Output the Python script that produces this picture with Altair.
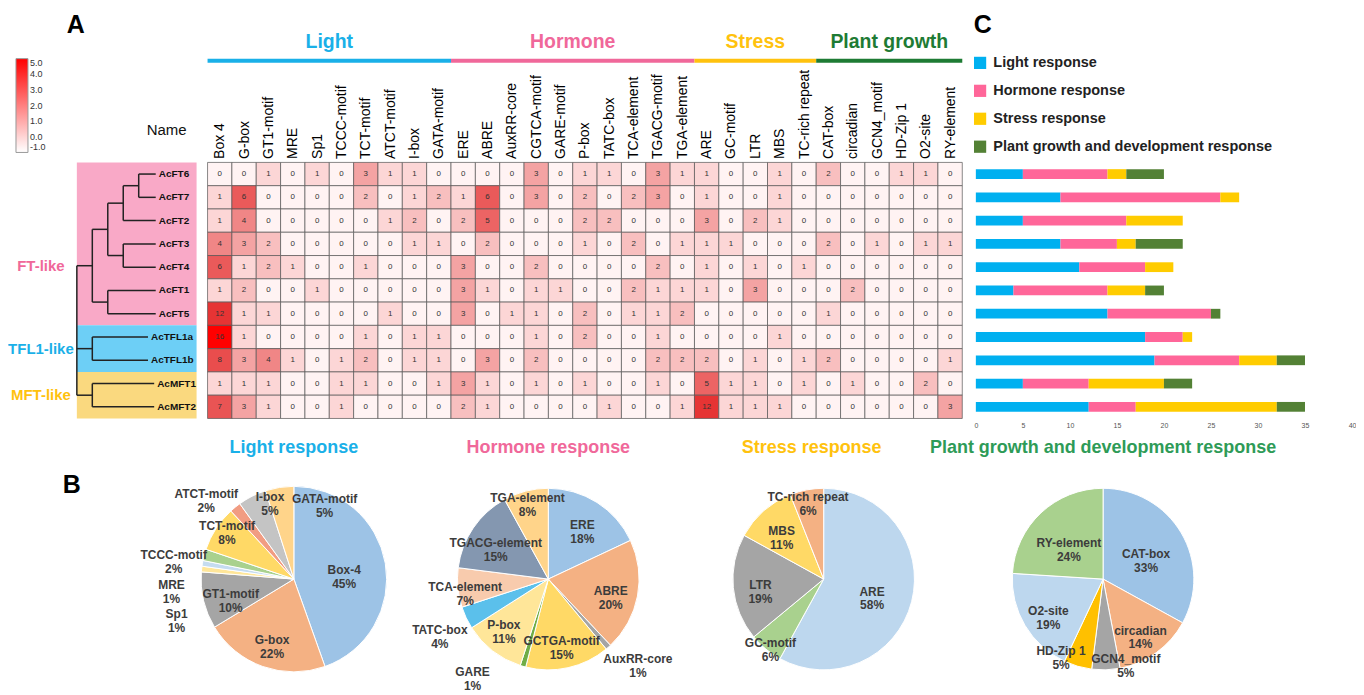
import math
import altair as alt
import pandas as pd

FONT = "Liberation Sans, Arial, sans-serif"

# ------------------------------------------------------------------ data
genes = ["AcFT6", "AcFT7", "AcFT2", "AcFT3", "AcFT4", "AcFT1", "AcFT5",
         "AcTFL1a", "AcTFL1b", "AcMFT1", "AcMFT2"]
clades = ["FT-like", "TFL1-like", "MFT-like"]
clade_of_gene = ["FT-like"] * 7 + ["TFL1-like"] * 2 + ["MFT-like"] * 2

light_cols = ["Box 4", "G-box", "GT1-motif", "MRE", "Sp1", "TCCC-motif",
              "TCT-motif", "ATCT-motif", "I-box", "GATA-motif"]
hormone_cols = ["ERE", "ABRE", "AuxRR-core", "CGTCA-motif", "GARE-motif", "P-box",
                "TATC-box", "TCA-element", "TGACG-motif", "TGA-element"]
stress_cols = ["ARE", "GC-motif", "LTR", "MBS", "TC-rich repeat"]
growth_cols = ["CAT-box", "circadian", "GCN4_motif", "HD-Zip 1", "O2-site", "RY-element"]
group_names = ["Light", "Hormone", "Stress", "Plant growth"]
group_cols = [light_cols, hormone_cols, stress_cols, growth_cols]

# element counts per gene: light | hormone | stress | growth
AcFT6 = [0, 0, 1, 0, 1, 0, 3, 1, 1, 0, 0, 0, 0, 3, 0, 1, 1, 0, 3, 1, 1, 0, 0, 1, 0, 2, 0, 0, 1, 1, 0]
AcFT7 = [1, 6, 0, 0, 0, 0, 2, 0, 1, 2, 1, 6, 0, 3, 0, 2, 0, 2, 3, 0, 1, 0, 0, 1, 0, 0, 0, 0, 0, 0, 0]
AcFT2 = [1, 4, 0, 0, 0, 0, 0, 1, 2, 0, 2, 5, 0, 0, 0, 2, 2, 0, 0, 0, 3, 0, 2, 1, 0, 0, 0, 0, 0, 0, 0]
AcFT3 = [4, 3, 2, 0, 0, 0, 0, 0, 1, 1, 0, 2, 0, 0, 0, 1, 0, 2, 0, 1, 1, 1, 0, 0, 0, 2, 0, 1, 0, 1, 1]
AcFT4 = [6, 1, 2, 1, 0, 0, 1, 0, 0, 0, 3, 0, 0, 2, 0, 0, 0, 0, 2, 0, 1, 0, 1, 0, 1, 0, 0, 0, 0, 0, 0]
AcFT1 = [1, 2, 0, 0, 1, 0, 0, 0, 0, 0, 3, 1, 0, 1, 1, 0, 0, 2, 1, 1, 1, 0, 3, 0, 0, 0, 2, 0, 0, 0, 0]
AcFT5 = [12, 1, 1, 0, 0, 0, 0, 1, 0, 0, 3, 0, 1, 1, 0, 2, 0, 1, 1, 2, 0, 0, 0, 0, 0, 1, 0, 0, 0, 0, 0]
AcTFL1a = [16, 1, 0, 0, 0, 0, 1, 0, 1, 1, 0, 0, 0, 1, 0, 2, 0, 0, 1, 0, 0, 0, 0, 1, 0, 0, 0, 0, 0, 0, 0]
AcTFL1b = [8, 3, 4, 1, 0, 1, 2, 0, 1, 1, 0, 3, 0, 2, 0, 0, 0, 0, 2, 2, 2, 0, 1, 0, 1, 2, 0, 0, 0, 0, 1]
AcMFT1 = [1, 1, 1, 0, 0, 1, 1, 0, 0, 1, 3, 1, 0, 1, 0, 1, 0, 0, 1, 0, 5, 1, 1, 0, 1, 0, 1, 0, 0, 2, 0]
AcMFT2 = [7, 3, 1, 0, 0, 1, 0, 0, 0, 0, 2, 1, 0, 0, 0, 0, 1, 0, 0, 1, 12, 1, 1, 1, 0, 0, 0, 0, 0, 0, 3]
gene_rows = [AcFT6, AcFT7, AcFT2, AcFT3, AcFT4, AcFT1, AcFT5, AcTFL1a, AcTFL1b, AcMFT1, AcMFT2]

# phylogenetic tree (name, depth, children)
tree = ("root", 0.0, [
    ("FT", 1.0, [
        ("n1", 2.0, [
            ("n2", 3.0, [("n3", 4.0, ["AcFT6", "AcFT7"]), "AcFT2"]),
            ("n4", 3.0, ["AcFT3", "AcFT4"])]),
        ("n5", 2.0, ["AcFT1", "AcFT5"])]),
    ("TFL1", 1.0, ["AcTFL1a", "AcTFL1b"]),
    ("MFT", 1.0, ["AcMFT1", "AcMFT2"])])
clade_nodes = ["FT", "TFL1", "MFT"]
leaf_depth = [5.1, 5.1, 5.1, 5.1, 5.1, 5.1, 5.1, 4.6, 4.6, 5.0, 5.0]

# panel C
response_names = ["Light response", "Hormone response", "Stress response",
                  "Plant growth and development response"]
light_resp = [5, 9, 5, 9, 11, 4, 14, 18, 19, 5, 12]
hormone_resp = [9, 17, 11, 6, 7, 10, 11, 4, 9, 7, 5]
stress_resp = [2, 2, 6, 2, 3, 4, 0, 1, 4, 8, 15]
growth_resp = [4, 0, 0, 5, 0, 2, 1, 0, 3, 3, 3]

# panel B
pie_titles = ["Light response", "Hormone response", "Stress response",
              "Plant growth and development response"]
light_motifs = ["Box-4", "G-box", "GT1-motif", "Sp1", "MRE", "TCCC-motif",
                "TCT-motif", "ATCT-motif", "I-box", "GATA-motif"]
light_pct = [45, 22, 10, 1, 1, 2, 8, 2, 5, 5]
hormone_motifs = ["ERE", "ABRE", "AuxRR-core", "GCTGA-motif", "GARE", "P-box",
                  "TATC-box", "TCA-element", "TGACG-element", "TGA-element"]
hormone_pct = [18, 20, 1, 15, 1, 11, 4, 7, 15, 8]
stress_motifs = ["ARE", "GC-motif", "LTR", "MBS", "TC-rich repeat"]
stress_pct = [58, 6, 19, 11, 6]
growth_motifs = ["CAT-box", "circadian", "GCN4_motif", "HD-Zip 1", "O2-site", "RY-element"]
growth_pct = [33, 14, 5, 5, 19, 24]

# ------------------------------------------------------------------ styles
HEAT_DOMAIN = [0, 1, 2, 3, 4, 5, 6, 12, 16]
HEAT_RANGE = ["#FFF3F3", "#FCD6D6", "#F8BFBF", "#F4A3A3", "#F08686",
              "#EC6464", "#EA5A5A", "#E63434", "#FF0000"]
GROUP_COLORS = ["#1AB0E8", "#F0689A", "#FFC20E", "#1E7B34"]
CLADE_BG = ["#F9A9C7", "#6DCFF6", "#FAD97F"]
CLADE_TXT = ["#F0689A", "#1AB0E8", "#FFC20E"]
RESP_COLORS = ["#00B0F0", "#FF6699", "#FFCC00", "#538135"]
PIE_TITLE_COLORS = ["#1AB0E8", "#F0689A", "#FFC20E", "#2E9B57"]
LIGHT_COLORS = ["#9DC3E6", "#F4B183", "#A5A5A5", "#FFE699", "#C5DCF0",
                "#A9D18E", "#FFD966", "#F19C82", "#C4C4C4", "#FFD48A"]
HORMONE_COLORS = ["#9DC3E6", "#F4B183", "#A5A5A5", "#FFD966", "#70AD47",
                  "#FFE699", "#5BC0EB", "#F8CBAD", "#8497B0", "#FFD48A"]
STRESS_COLORS = ["#BDD7EE", "#A9D18E", "#A5A5A5", "#FFD966", "#F4B183"]
GROWTH_COLORS = ["#9DC3E6", "#F4B183", "#A5A5A5", "#FFC000", "#BDD7EE", "#A9D18E"]

# layout (pixels)
NC, NR = 31, 11
CW, RH = 24.4, 23.33
HEAT_H = RH * NR
HEAT_W = 770
DEND_W = 131
DEND_UNIT = 15.5
BG_W = 120
BAR_W = 377
PIE_H = 200

# ------------------------------------------------------------------ panel A: tree
segs, node_y = [], {}


def walk(node):
    if isinstance(node, str):
        i = genes.index(node)
        return leaf_depth[i], i + 0.5
    name, d, children = node
    res = [walk(c) for c in children]
    ys = [r[1] for r in res]
    y = (ys[0] + ys[-1]) / 2.0
    segs.append({"x": d, "x2": d, "y": ys[0], "y2": ys[-1]})
    for cd, cy in res:
        segs.append({"x": d, "x2": cd, "y": cy, "y2": cy})
    node_y[name] = y
    return d, y


walk(tree)
seg_df = pd.DataFrame(segs)
xs_d = alt.Scale(domain=[0, DEND_W / DEND_UNIT], nice=False, zero=False)
ys_r = alt.Scale(domain=[0, NR], nice=False, zero=False, reverse=True)

bg_df = pd.DataFrame({
    "clade": clades,
    "r0": [clade_of_gene.index(c) for c in clades],
    "r1": [len(clade_of_gene) - clade_of_gene[::-1].index(c) for c in clades],
})
bg = alt.Chart(bg_df).mark_rect().encode(
    x=alt.value(0), x2=alt.value(BG_W),
    y=alt.Y("r0:Q", scale=ys_r, axis=None), y2="r1:Q",
    fill=alt.Fill("clade:N", scale=alt.Scale(domain=clades, range=CLADE_BG), legend=None),
)
lines = alt.Chart(seg_df).mark_rule(color="#222222", strokeWidth=1.5).encode(
    x=alt.X("x:Q", scale=xs_d, axis=None), x2="x2:Q",
    y=alt.Y("y:Q", scale=ys_r, axis=None), y2="y2:Q",
)
leaf_df = pd.DataFrame({"gene": genes, "d": leaf_depth, "y": [i + 0.5 for i in range(NR)]})
leaf_txt = alt.Chart(leaf_df).mark_text(align="left", dx=3, fontSize=10, fontWeight="bold",
                                        font=FONT, color="#111111").encode(
    x=alt.X("d:Q", scale=xs_d, axis=None), y=alt.Y("y:Q", scale=ys_r, axis=None), text="gene:N")
clade_df = pd.DataFrame({"clade": clades, "y": [node_y[n] for n in clade_nodes]})
clade_txt = alt.Chart(clade_df).mark_text(fontSize=15, fontWeight="bold", font=FONT).encode(
    x=alt.value(-36), y=alt.Y("y:Q", scale=ys_r, axis=None), text="clade:N",
    color=alt.Color("clade:N", scale=alt.Scale(domain=clades, range=CLADE_TXT), legend=None))
name_txt = alt.Chart(pd.DataFrame({"t": ["Name"]})).mark_text(
    align="right", fontSize=15, font=FONT, color="#111111").encode(
    x=alt.value(110), y=alt.value(-32), text="t:N")
a_txt = alt.Chart(pd.DataFrame({"t": ["A"]})).mark_text(
    fontSize=25, fontWeight="bold", font=FONT, color="#000000", baseline="top").encode(
    x=alt.value(-1), y=alt.value(-150), text="t:N")
legend_dummy = alt.Chart(pd.DataFrame({"v": [-1.0, 5.0]})).mark_point(opacity=0).encode(
    stroke=alt.Stroke("v:Q", scale=alt.Scale(domain=[-1, 5], range=["#FFFFFF", "#FF0000"],
                                              interpolate="rgb"),
                      legend=alt.Legend(orient="none", legendX=-61, legendY=-104, direction="vertical",
                                        gradientLength=94, gradientThickness=12,
                                        values=[5, 4, 3, 2, 1, 0, -1],
                                        labelExpr="(datum.value < 0 ? '-' : '') + format(abs(datum.value), '.1f')",
                                        labelFontSize=9, labelFont=FONT, labelColor="#333333",
                                        title=None, gradientStrokeColor="#999999",
                                        gradientStrokeWidth=1, labelOffset=2, padding=0)))
dendro = alt.layer(bg, lines, leaf_txt, clade_txt, name_txt, a_txt, legend_dummy).properties(
    width=DEND_W, height=HEAT_H)

# ------------------------------------------------------------------ panel A: heatmap
all_cols = light_cols + hormone_cols + stress_cols + growth_cols
cells = []
for r, g in enumerate(genes):
    for c, col in enumerate(all_cols):
        cells.append({"gene": g, "motif": col, "v": gene_rows[r][c],
                      "c0": c, "c1": c + 1, "r0": r, "r1": r + 1, "cm": c + 0.5, "rm": r + 0.5})
cell_df = pd.DataFrame(cells)
xs_h = alt.Scale(domain=[0, HEAT_W / CW], nice=False, zero=False)
label_expr = "[" + ",".join("'" + m + "'" for m in all_cols) + "][floor(datum.value)]"
HEAT_AXIS = alt.Axis(
    orient="top", values=[c + 0.5 for c in range(NC)], labelExpr=label_expr,
    labelAngle=270, labelAlign="left", labelBaseline="middle", labelFontSize=14,
    labelColor="#000000", labelFont=FONT, labelPadding=4, domain=False, ticks=False,
    tickSize=0, grid=False, title=None, labelOverlap=False, labelFlush=False,
    labelBound=False)


def hx(field):
    return alt.X(field, scale=xs_h, axis=HEAT_AXIS)


heat_rect = alt.Chart(cell_df).mark_rect(stroke="#555555", strokeWidth=0.7).encode(
    x=hx("c0:Q"), x2="c1:Q",
    y=alt.Y("r0:Q", scale=ys_r, axis=None), y2="r1:Q",
    color=alt.Color("v:Q", scale=alt.Scale(domain=HEAT_DOMAIN, range=HEAT_RANGE, interpolate="rgb"),
                    legend=None),
)
heat_txt = alt.Chart(cell_df).mark_text(fontSize=8, font=FONT, color="#333333").encode(
    x=hx("cm:Q"), y=alt.Y("rm:Q", scale=ys_r, axis=None), text="v:Q")

starts, pos = [], 0
for cols in group_cols:
    starts.append(pos)
    pos += len(cols)
grp_df = pd.DataFrame({
    "name": group_names,
    "start": starts,
    "end": [s + len(c) for s, c in zip(starts, group_cols)],
    "mid": [s + len(c) / 2.0 for s, c in zip(starts, group_cols)],
})
grp_rule = alt.Chart(grp_df).mark_rule(strokeWidth=4).encode(
    x=hx("start:Q"), x2="end:Q", y=alt.value(-102),
    stroke=alt.Stroke("name:N", scale=alt.Scale(domain=group_names, range=GROUP_COLORS), legend=None))
grp_txt = alt.Chart(grp_df).mark_text(fontSize=19.5, fontWeight="bold", font=FONT).encode(
    x=hx("mid:Q"), y=alt.value(-121), text="name:N",
    fill=alt.Fill("name:N", scale=alt.Scale(domain=group_names, range=GROUP_COLORS), legend=None))
heat = alt.layer(heat_rect, heat_txt, grp_rule, grp_txt).properties(width=HEAT_W, height=HEAT_H)

# ------------------------------------------------------------------ panel C: bars
bar_rows = []
for i, g in enumerate(genes):
    for k, (nm, arr) in enumerate(zip(response_names,
                                      [light_resp, hormone_resp, stress_resp, growth_resp])):
        bar_rows.append({"gene": g, "resp": nm, "n": arr[i], "k": k})
bar_df = pd.DataFrame(bar_rows)
bar_marks = alt.Chart(bar_df).mark_bar().encode(
    x=alt.X("n:Q", stack="zero", scale=alt.Scale(domain=[0, 40], nice=False),
            axis=alt.Axis(values=list(range(0, 41, 5)), domain=False, ticks=False, tickSize=0,
                          grid=False, labelFontSize=7, labelColor="#555555", title=None,
                          labelPadding=3, labelFlush=False, labelFont=FONT)),
    y=alt.Y("gene:N", sort=genes, axis=None, scale=alt.Scale(paddingInner=0.58, paddingOuter=0.29)),
    color=alt.Color("resp:N", scale=alt.Scale(domain=response_names, range=RESP_COLORS),
                    legend=alt.Legend(orient="none", legendX=-3, legendY=-107, title=None,
                                      symbolType="square", symbolSize=150, labelFontSize=14.5,
                                      labelFontWeight="bold", labelFont=FONT, labelColor="#222222",
                                      rowPadding=13, padding=0, labelLimit=400,
                                      symbolStrokeWidth=0, labelOffset=6)),
    order=alt.Order("k:Q", sort="ascending"),
)
c_txt = alt.Chart(pd.DataFrame({"t": ["C"]})).mark_text(
    fontSize=25, fontWeight="bold", font=FONT, color="#000000", baseline="top").encode(
    x=alt.value(7), y=alt.value(-150), text="t:N")
bars = alt.layer(bar_marks, c_txt).properties(width=BAR_W, height=HEAT_H)


# ------------------------------------------------------------------ panel B: pies
LFS = 12
FRAC = {"big": 0.55, "in": 0.7, "edge": 0.92, "out": 1.32}
TOP_LIMIT, BOTTOM_LIMIT = -113, 108


def label_class(p):
    if p >= 24:
        return "big"
    if p >= 10:
        return "in"
    if p >= 5:
        return "edge"
    return "out"


def spread(rows, R, fs=LFS):
    """Push overlapping pie labels apart along the circle."""
    items = sorted(rows, key=lambda r: r["deg"])

    def box(r):
        rad = R * FRAC[r["cls"]]
        a = math.radians(r["deg"])
        x, y = rad * math.sin(a), -rad * math.cos(a)
        w = max(len(s) for s in r["lab"].split("\n")) * fs * 0.6
        h = 2 * fs * 1.2
        return (x - w / 2, x + w / 2, y - h / 2, y + h / 2)

    for _ in range(1000):
        moved = False
        for it in items:
            if it["cls"] in ("big", "in"):
                continue
            b = box(it)
            d = it["deg"] % 360
            if b[3] > BOTTOM_LIMIT:
                it["deg"] += 0.5 if d > 180 else -0.5
                moved = True
            elif b[2] < TOP_LIMIT:
                it["deg"] += 0.5 if d < 180 else -0.5
                moved = True
        for i in range(len(items)):
            for j in range(i + 1, len(items)):
                A, B = box(items[i]), box(items[j])
                if A[0] < B[1] and B[0] < A[1] and A[2] < B[3] and B[2] < A[3]:
                    wi = 0.15 if items[i]["cls"] == "big" else 0.5
                    wj = 0.15 if items[j]["cls"] == "big" else 0.5
                    items[i]["deg"] -= wi
                    items[j]["deg"] += wj
                    moved = True
        if not moved:
            break


def pie_panel(motifs, pct, colors, title, tcolor, R, W, tdx=0):
    total = float(sum(pct))
    rows, cum = [], 0.0
    for i, (m, p) in enumerate(zip(motifs, pct)):
        mid = cum + p / 2.0
        cum += p
        rows.append({"motif": m, "pct": p, "idx": i, "cls": label_class(p),
                     "lab": m + "\n" + str(p) + "%", "deg": mid / total * 360.0})
    spread(rows, R)
    for r in rows:
        r["ang"] = r["deg"] / 360.0 * total
    df = pd.DataFrame(rows)
    tscale = alt.Scale(domain=[0, total])
    base = alt.Chart(df)
    arcs = base.mark_arc(outerRadius=R, stroke="white", strokeWidth=1).encode(
        theta=alt.Theta("pct:Q", stack=True, scale=tscale),
        color=alt.Color("motif:N", scale=alt.Scale(domain=motifs, range=colors), legend=None),
        order=alt.Order("idx:Q", sort="ascending"),
    )
    layers = [arcs]
    for cls in ("big", "in", "edge", "out"):
        layers.append(base.transform_filter("datum.cls == '" + cls + "'").mark_text(
            radius=R * FRAC[cls], lineBreak="\n", font=FONT, fontSize=LFS, fontWeight="bold",
            color="#3C3C3C", lineHeight=14).encode(
            theta=alt.Theta("ang:Q", stack=False, scale=tscale), text="lab:N"))
    return alt.layer(*layers).properties(
        width=W, height=PIE_H,
        title=alt.TitleParams(text=title, color=tcolor, font=FONT, fontSize=18,
                              fontWeight="bold", anchor="middle", frame="group", offset=22, dx=tdx))


p1 = pie_panel(light_motifs, light_pct, LIGHT_COLORS, pie_titles[0], PIE_TITLE_COLORS[0], 93, 255)
p2 = pie_panel(hormone_motifs, hormone_pct, HORMONE_COLORS, pie_titles[1], PIE_TITLE_COLORS[1], 91, 255)
p3 = pie_panel(stress_motifs, stress_pct, STRESS_COLORS, pie_titles[2], PIE_TITLE_COLORS[2], 91, 297, -12)
p4 = pie_panel(growth_motifs, growth_pct, GROWTH_COLORS, pie_titles[3], PIE_TITLE_COLORS[3], 91, 263)

b_panel = alt.layer(alt.Chart(pd.DataFrame({"t": ["B"]})).mark_text(
    fontSize=25, fontWeight="bold", font=FONT, color="#000000").encode(
    x=alt.value(-5), y=alt.value(6), text="t:N")).properties(width=89.5, height=PIE_H)

RES = dict(color="independent", fill="independent", stroke="independent")
top = alt.hconcat(dendro, heat, bars, spacing=0, bounds="flush").resolve_scale(**RES)
bottom = alt.hconcat(b_panel, p1, p2, p3, p4, spacing=0, bounds="flush").resolve_scale(**RES)

chart = alt.vconcat(top, bottom, spacing=317.6, bounds="flush").resolve_scale(
    **RES
).properties(
    padding={"top": 4, "left": 0, "right": 0, "bottom": 0}, background="white"
).configure(font=FONT).configure_view(stroke="transparent", strokeWidth=0)

chart.save("out.html", embed_options={"renderer": "svg", "actions": False})
